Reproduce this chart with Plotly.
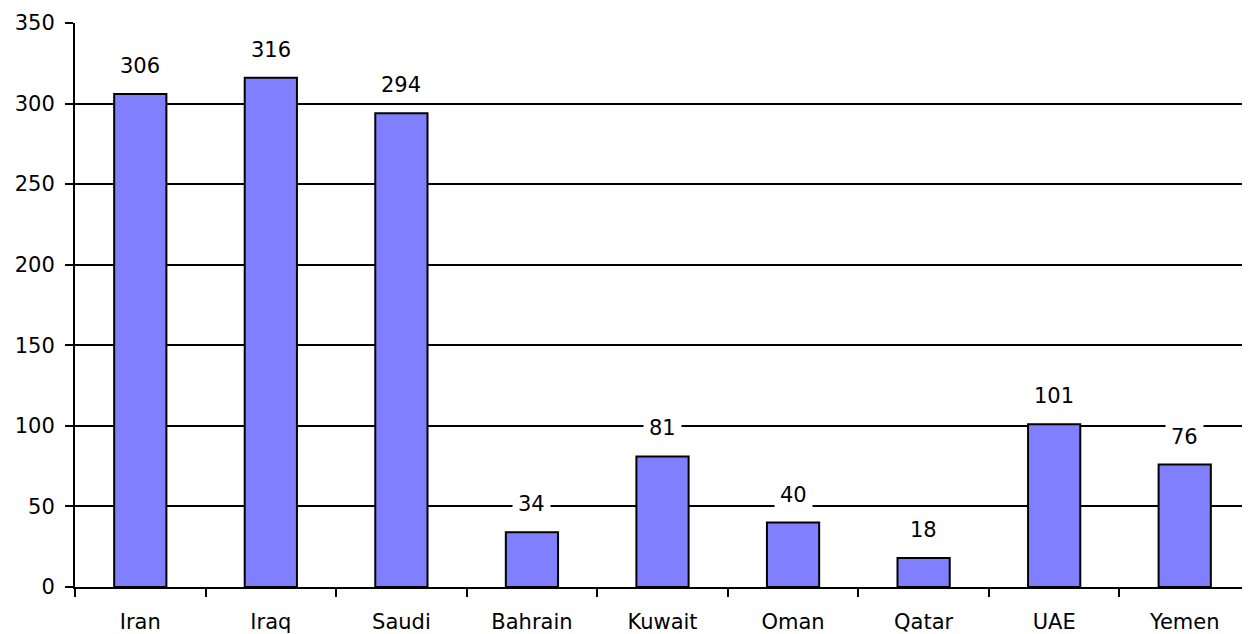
import plotly.graph_objects as go

countries = ["Iran", "Iraq", "Saudi", "Bahrain", "Kuwait", "Oman", "Qatar", "UAE", "Yemen"]
values = [306, 316, 294, 34, 81, 40, 18, 101, 76]
y_ticks = [0, 50, 100, 150, 200, 250, 300, 350]

FONT = "DejaVu Sans, Arial, sans-serif"
FS = 21

fig = go.Figure()
fig.add_trace(go.Bar(
    x=countries, y=values,
    marker=dict(color="#8080FF", line=dict(color="black", width=2)),
    width=0.4,
    hoverinfo="x+y",
))

for c, v in zip(countries, values):
    fig.add_annotation(
        x=c, y=v, text=str(v), showarrow=False,
        yanchor="middle", yshift=28,
        bgcolor="white", borderpad=5,
        font=dict(family=FONT, size=FS, color="black"),
    )

# the page body has an 8px default margin; compensate so the plot lands where the reference has it
fig.update_layout(
    width=1242, height=626,
    margin=dict(l=67, r=0, t=15, b=47),
    paper_bgcolor="white", plot_bgcolor="white",
    showlegend=False,
    font=dict(family=FONT, size=FS, color="black"),
    bargap=0.6,
)
fig.update_xaxes(
    type="category", automargin=False,
    tickson="boundaries", ticks="outside", ticklen=8, tickwidth=2, tickcolor="black",
    ticklabelstandoff=15,
    showline=True, linecolor="black", linewidth=2,
    showgrid=False, zeroline=False,
    tickfont=dict(family=FONT, size=FS, color="black"),
)
fig.update_yaxes(
    range=[0, 350], tickvals=y_ticks, automargin=False,
    ticks="outside", ticklen=8, tickwidth=2, tickcolor="black",
    ticklabelstandoff=6,
    showline=True, linecolor="black", linewidth=2,
    showgrid=True, gridcolor="black", gridwidth=2,
    zeroline=False,
    tickfont=dict(family=FONT, size=FS, color="black"),
)

fig.write_html("out.html")
